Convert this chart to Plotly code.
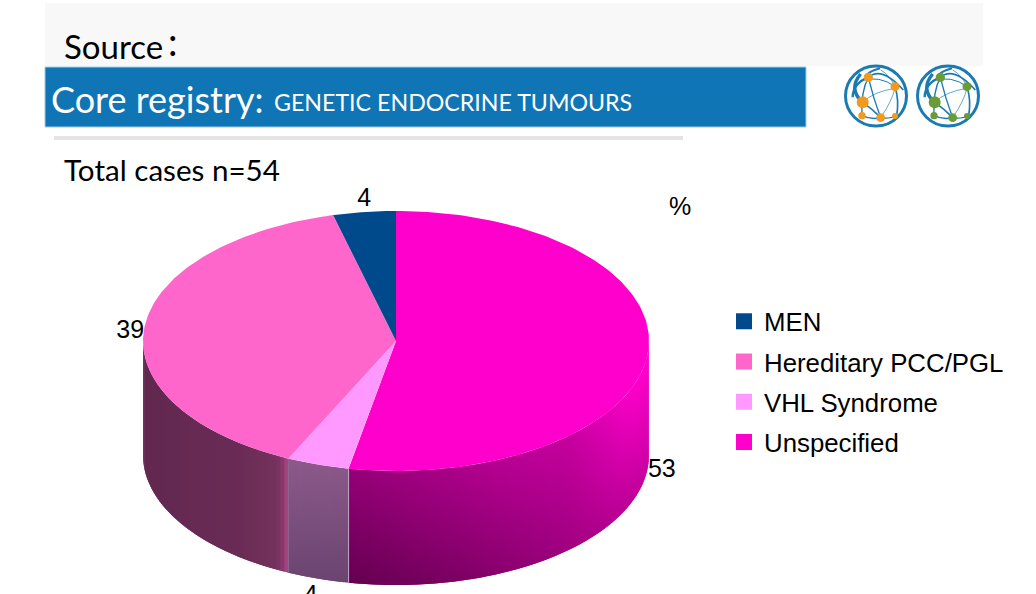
import numpy as np
import plotly.graph_objects as go

categories = ["Unspecified", "VHL Syndrome", "Hereditary PCC/PGL", "MEN"]
values = [53, 4, 39, 4]
colors = ["#ff00cc", "#ff99ff", "#ff66cc", "#004a8c"]
legend_order = ["MEN", "Hereditary PCC/PGL", "VHL Syndrome", "Unspecified"]

CX, CY, RX, RY, H = 396, 341, 253, 130, 114


def ex(a):
    return CX + RX * np.sin(np.radians(a))


def ey(a):
    return CY - RY * np.cos(np.radians(a))


def hexc(r, g, b):
    return "rgb(%d,%d,%d)" % (r, g, b)


def wall_unspecified(x, y):
    t = (x - 349) * 0.5 + (585 - y) * 1.0
    k = np.clip(np.interp(t, [0, 100, 200, 260, 320, 345], [0.39, 0.56, 0.72, 0.78, 0.95, 1.0]), 0, 1)
    return hexc(255 * k, 0, 204 * k)


def wall_hereditary(x, y):
    r = np.interp(x, [143, 240, 275, 281, 288], [98, 106, 116, 130, 168])
    g = np.interp(x, [143, 240, 275, 281, 288], [40, 44, 50, 52, 72])
    b = np.interp(x, [143, 240, 275, 281, 288], [80, 86, 92, 104, 130])
    return hexc(r, g, b)


def wall_vhl(x, y):
    t = np.interp(y, [460, 585], [0, 1])
    return hexc(140 - 34 * t, 90 - 22 * t, 138 - 26 * t)


wall_fn = {"Unspecified": wall_unspecified, "VHL Syndrome": wall_vhl, "Hereditary PCC/PGL": wall_hereditary}

fig = go.Figure()

edges = np.cumsum([0] + values) / sum(values) * 360.0

# side walls
for i, cat in enumerate(categories):
    start, stop = max(edges[i], 90), min(edges[i + 1], 270)
    if start >= stop:
        continue
    grid = np.arange(start, stop, 1.0).tolist() + [stop]
    for j in range(len(grid) - 1):
        a0, a1 = grid[j], grid[min(j + 2, len(grid) - 1)]
        arc = np.linspace(a0, a1, 6)
        xs = ex(arc)
        yt = ey(arc)
        yb = yt + H
        xc = ex((grid[j] + grid[j + 1]) / 2)
        ytop, ybot = float(yt.min()), float(yb.max())
        fig.add_trace(go.Scatter(
            x=np.r_[xs, xs[::-1], xs[0]], y=np.r_[yt, yb[::-1], yt[0]],
            mode="lines", line=dict(width=0), fill="toself",
            fillgradient=dict(type="vertical", start=ytop, stop=ybot,
                              colorscale=[[0, wall_fn[cat](xc, ytop)], [1, wall_fn[cat](xc, ybot)]]),
            hoverinfo="skip", showlegend=False))

# pale seams at the VHL wall edges
for a, col in [(edges[1], "#c8a4c8"), (edges[2], "#8a6a90")]:
    fig.add_trace(go.Scatter(x=[ex(a), ex(a)], y=[ey(a), ey(a) + H], mode="lines",
                             line=dict(color=col, width=1), hoverinfo="skip", showlegend=False))

# top face
for i, cat in enumerate(categories):
    arc = np.linspace(edges[i], edges[i + 1], 160)
    fig.add_trace(go.Scatter(
        x=np.r_[CX, ex(arc), CX], y=np.r_[CY, ey(arc), CY],
        mode="lines", line=dict(width=0), fill="toself", fillcolor=colors[i],
        name=cat, showlegend=False, hoverinfo="text", text=f"{cat}: {values[i]}%"))

# data labels
mid = (edges[:-1] + edges[1:]) / 2
lx, ly, pos = [], [], []
for i, a in enumerate(mid):
    front = 90 < a < 270 and ex(a) > CX - 200
    lx.append(float(ex(a)) - (7 if values[i] == 4 and front else 0))
    ly.append(float(ey(a)) + ((H + 6 if values[i] == 4 else H + 4) if front else 3 if values[i] > 4 else 0))
    if values[i] == 4:
        pos.append("bottom center" if front else "top center")
    elif ex(a) > CX:
        pos.append("middle right")
    else:
        pos.append("middle left")
fig.add_trace(go.Scatter(x=lx, y=ly, mode="text", text=[str(v) for v in values], textposition=pos,
                         textfont=dict(family="Liberation Sans", size=25, color="#000"),
                         cliponaxis=False, hoverinfo="skip", showlegend=False))

# legend
for cat in legend_order:
    fig.add_trace(go.Scatter(x=[None], y=[None], mode="markers", name=cat, legendgroup=cat,
                             marker=dict(symbol="square", size=16, color=colors[categories.index(cat)])))

shapes = [
    dict(type="rect", x0=45, x1=983, y0=3, y1=66, fillcolor="#f8f8f8", line_width=0, layer="below"),
    dict(type="rect", x0=45, x1=806, y0=67, y1=127, fillcolor="#0f75b5",
         line=dict(color="#9fcbe6", width=1), layer="below"),
    dict(type="rect", x0=54, x1=683, y0=136, y1=140, fillcolor="#e4e4e4", line_width=0, layer="below"),
]

# logos, drawn in a 72-px box scaled by 3
ring = "#1a7ab2"
nodes = [(85, 52, 14), (165, 80, 13.5), (68, 127, 18), (66, 167, 11), (122, 173, 13), (165, 168, 9)]
curves = [
    (62, 42, 25, 85, 65, 125, 10),
    (85, 52, 38, 70, 38, 112, 7),
    (85, 52, 125, 18, 190, 90, 5),
    (60, 62, 120, 45, 165, 80, 3),
    (85, 52, 62, 95, 66, 167, 4),
    (85, 52, 100, 115, 122, 173, 4),
    (68, 127, 95, 145, 122, 173, 5),
    (66, 167, 95, 180, 122, 173, 4),
    (122, 173, 145, 178, 178, 165, 4),
    (165, 80, 178, 120, 170, 168, 5),
    (165, 85, 100, 95, 68, 127, 2),
    (165, 85, 155, 125, 122, 173, 2),
    (122, 30, 150, 45, 165, 80, 2),
    (120, 25, 70, 40, 85, 52, 6),
]
for ox, node_col in [(840, "#f39a1e"), (912, "#6a9c35")]:
    oy = 60
    sx = lambda v: ox + v / 3
    sy = lambda v: oy + v / 3
    shapes.append(dict(type="circle", x0=sx(108) - 30.5, x1=sx(108) + 30.5, y0=sy(108) - 30, y1=sy(108) + 30,
                       line=dict(color=ring, width=3)))
    for x0, y0, cx, cy, x1, y1, w in curves:
        path = f"M{sx(x0)},{sy(y0)} Q{sx(cx)},{sy(cy)} {sx(x1)},{sy(y1)}"
        shapes.append(dict(type="path", path=path, line=dict(color=ring, width=w / 3)))
    for nx, ny, r in nodes:
        shapes.append(dict(type="circle", x0=sx(nx - r), x1=sx(nx + r), y0=sy(ny - r), y1=sy(ny + r),
                           fillcolor=node_col, line_width=0))


def note(x, y, text, size, color="#000", family="Lato"):
    return dict(x=x, y=y, text=text, showarrow=False, xanchor="left", yanchor="middle", xref="x", yref="y",
                font=dict(family=family, size=size, color=color))


annotations = [
    note(62, 46, "Source", 33),
    note(166, 41, ":", 38),
    note(49, 99, "Core registry:", 36, "#fff"),
    note(272, 102, "GENETIC ENDOCRINE TUMOURS", 23.2, "#fff"),
    note(62, 169, "Total cases n=54", 29.6),
    note(667, 206, "%", 25, family="Liberation Sans"),
]

fig.update_layout(
    width=1036, height=594, autosize=False,
    margin=dict(l=0, r=0, t=0, b=0),
    paper_bgcolor="#fff", plot_bgcolor="#fff",
    xaxis=dict(range=[0, 1036], visible=False, fixedrange=True),
    yaxis=dict(range=[594, 0], visible=False, fixedrange=True),
    shapes=shapes, annotations=annotations,
    showlegend=True,
    legend=dict(x=724 / 1036, y=1 - 298 / 594, xanchor="left", yanchor="top",
                font=dict(family="Liberation Sans", size=25.8, color="#000"),
                tracegroupgap=3.7, bgcolor="rgba(0,0,0,0)"),
)

fig.write_html("out.html", config=dict(displayModeBar=False),
               post_script="document.body.style.margin='0';document.body.style.overflow='hidden';")
